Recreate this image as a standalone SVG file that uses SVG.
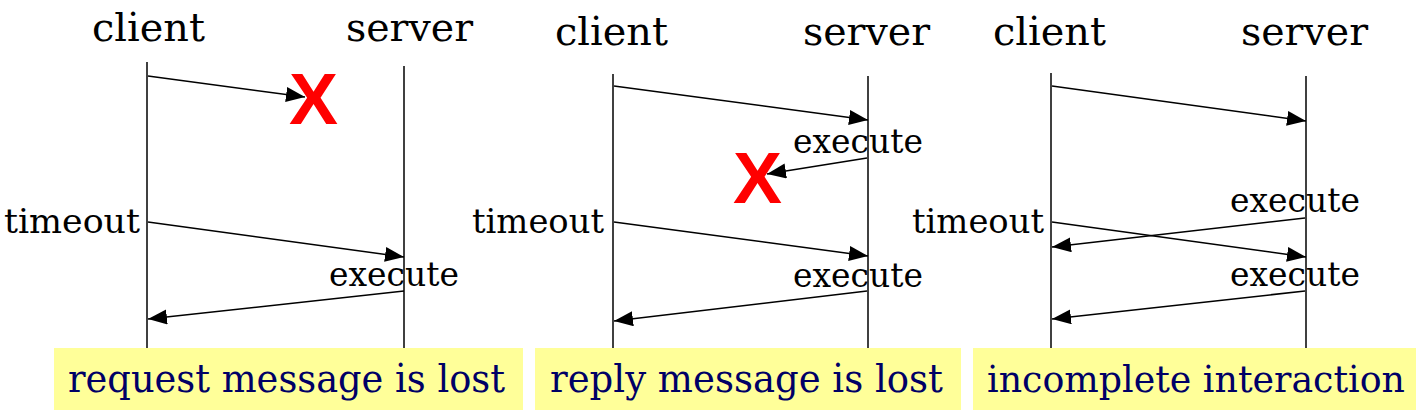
<svg xmlns="http://www.w3.org/2000/svg" width="1416" height="410" viewBox="0 0 1416 410">
<style>
.t{font-family:"DejaVu Serif","Liberation Serif",serif;font-size:40px;fill:#000}
.l{font-family:"DejaVu Serif","Liberation Serif",serif;font-size:34px;fill:#000}
.cap{font-family:"DejaVu Serif","Liberation Serif",serif;font-size:39px;fill:#000066}
.cap3{font-size:37px}
.life{stroke:#000;stroke-width:1.5;fill:none}
.msg{stroke:#000;stroke-width:1.5;fill:none;marker-end:url(#ah)}
.box{fill:#ffff99}
.x{font-family:"Liberation Sans",Arial,sans-serif;font-weight:bold;font-size:72px;fill:#ff0000}
</style>
<defs>
<marker id="ah" markerUnits="userSpaceOnUse" markerWidth="20" markerHeight="16" refX="19" refY="7.5" orient="auto">
<path d="M0,0 L19,7.5 L0,15 Z" fill="#000"/>
</marker>
</defs>
<rect width="1416" height="410" fill="#fff"/>

<g id="panel1">
<text class="t" x="92" y="41" textLength="113" lengthAdjust="spacingAndGlyphs">client</text>
<text class="t" x="346" y="41" textLength="127" lengthAdjust="spacingAndGlyphs">server</text>
<line class="life" x1="147" y1="62" x2="147" y2="348"/>
<line class="life" x1="404" y1="66" x2="404" y2="348"/>
<text class="l" x="4" y="233" textLength="136" lengthAdjust="spacingAndGlyphs">timeout</text>
<text class="l" x="329" y="286" textLength="130" lengthAdjust="spacingAndGlyphs">execute</text>
<text class="x" x="289" y="124" textLength="49" lengthAdjust="spacingAndGlyphs">X</text>
</g>

<g id="panel2">
<text class="t" x="555" y="45" textLength="113" lengthAdjust="spacingAndGlyphs">client</text>
<text class="t" x="803" y="45" textLength="127" lengthAdjust="spacingAndGlyphs">server</text>
<line class="life" x1="613" y1="74" x2="613" y2="348"/>
<line class="life" x1="868" y1="76" x2="868" y2="348"/>
<text class="l" x="793" y="153" textLength="130" lengthAdjust="spacingAndGlyphs">execute</text>
<text class="l" x="472" y="233" textLength="132" lengthAdjust="spacingAndGlyphs">timeout</text>
<text class="l" x="793" y="287" textLength="130" lengthAdjust="spacingAndGlyphs">execute</text>
<text class="x" x="733" y="203" textLength="49" lengthAdjust="spacingAndGlyphs">X</text>
</g>

<g id="panel3">
<text class="t" x="993" y="45" textLength="113" lengthAdjust="spacingAndGlyphs">client</text>
<text class="t" x="1241" y="45" textLength="127" lengthAdjust="spacingAndGlyphs">server</text>
<line class="life" x1="1051" y1="73" x2="1051" y2="348"/>
<line class="life" x1="1306" y1="76" x2="1306" y2="348"/>
<text class="l" x="1230" y="212" textLength="130" lengthAdjust="spacingAndGlyphs">execute</text>
<text class="l" x="912" y="233" textLength="132" lengthAdjust="spacingAndGlyphs">timeout</text>
<text class="l" x="1230" y="286" textLength="130" lengthAdjust="spacingAndGlyphs">execute</text>
</g>

<g id="connectors">
<line class="msg" x1="148" y1="76" x2="305" y2="97"/>
<line class="msg" x1="148" y1="222" x2="404" y2="257"/>
<line class="msg" x1="404" y1="291" x2="148" y2="319"/>
<line class="msg" x1="614" y1="86" x2="868" y2="120"/>
<line class="msg" x1="867" y1="158" x2="767" y2="174"/>
<line class="msg" x1="614" y1="222" x2="868" y2="256"/>
<line class="msg" x1="867" y1="291" x2="614" y2="321"/>
<line class="msg" x1="1052" y1="86" x2="1306" y2="121"/>
<line class="msg" x1="1305" y1="218" x2="1052" y2="247"/>
<line class="msg" x1="1052" y1="222" x2="1306" y2="257"/>
<line class="msg" x1="1305" y1="291" x2="1052" y2="319"/>
</g>

<g id="caption1">
<rect class="box" x="54" y="348" width="469" height="62"/>
<text class="cap" x="68" y="392" textLength="437" lengthAdjust="spacingAndGlyphs">request message is lost</text>
</g>
<g id="caption2">
<rect class="box" x="535" y="348" width="426" height="62"/>
<text class="cap" x="550" y="392" textLength="393" lengthAdjust="spacingAndGlyphs">reply message is lost</text>
</g>
<g id="caption3">
<rect class="box" x="973" y="348" width="443" height="62"/>
<text class="cap cap3" x="987" y="392" textLength="418" lengthAdjust="spacingAndGlyphs">incomplete interaction</text>
</g>
</svg>
